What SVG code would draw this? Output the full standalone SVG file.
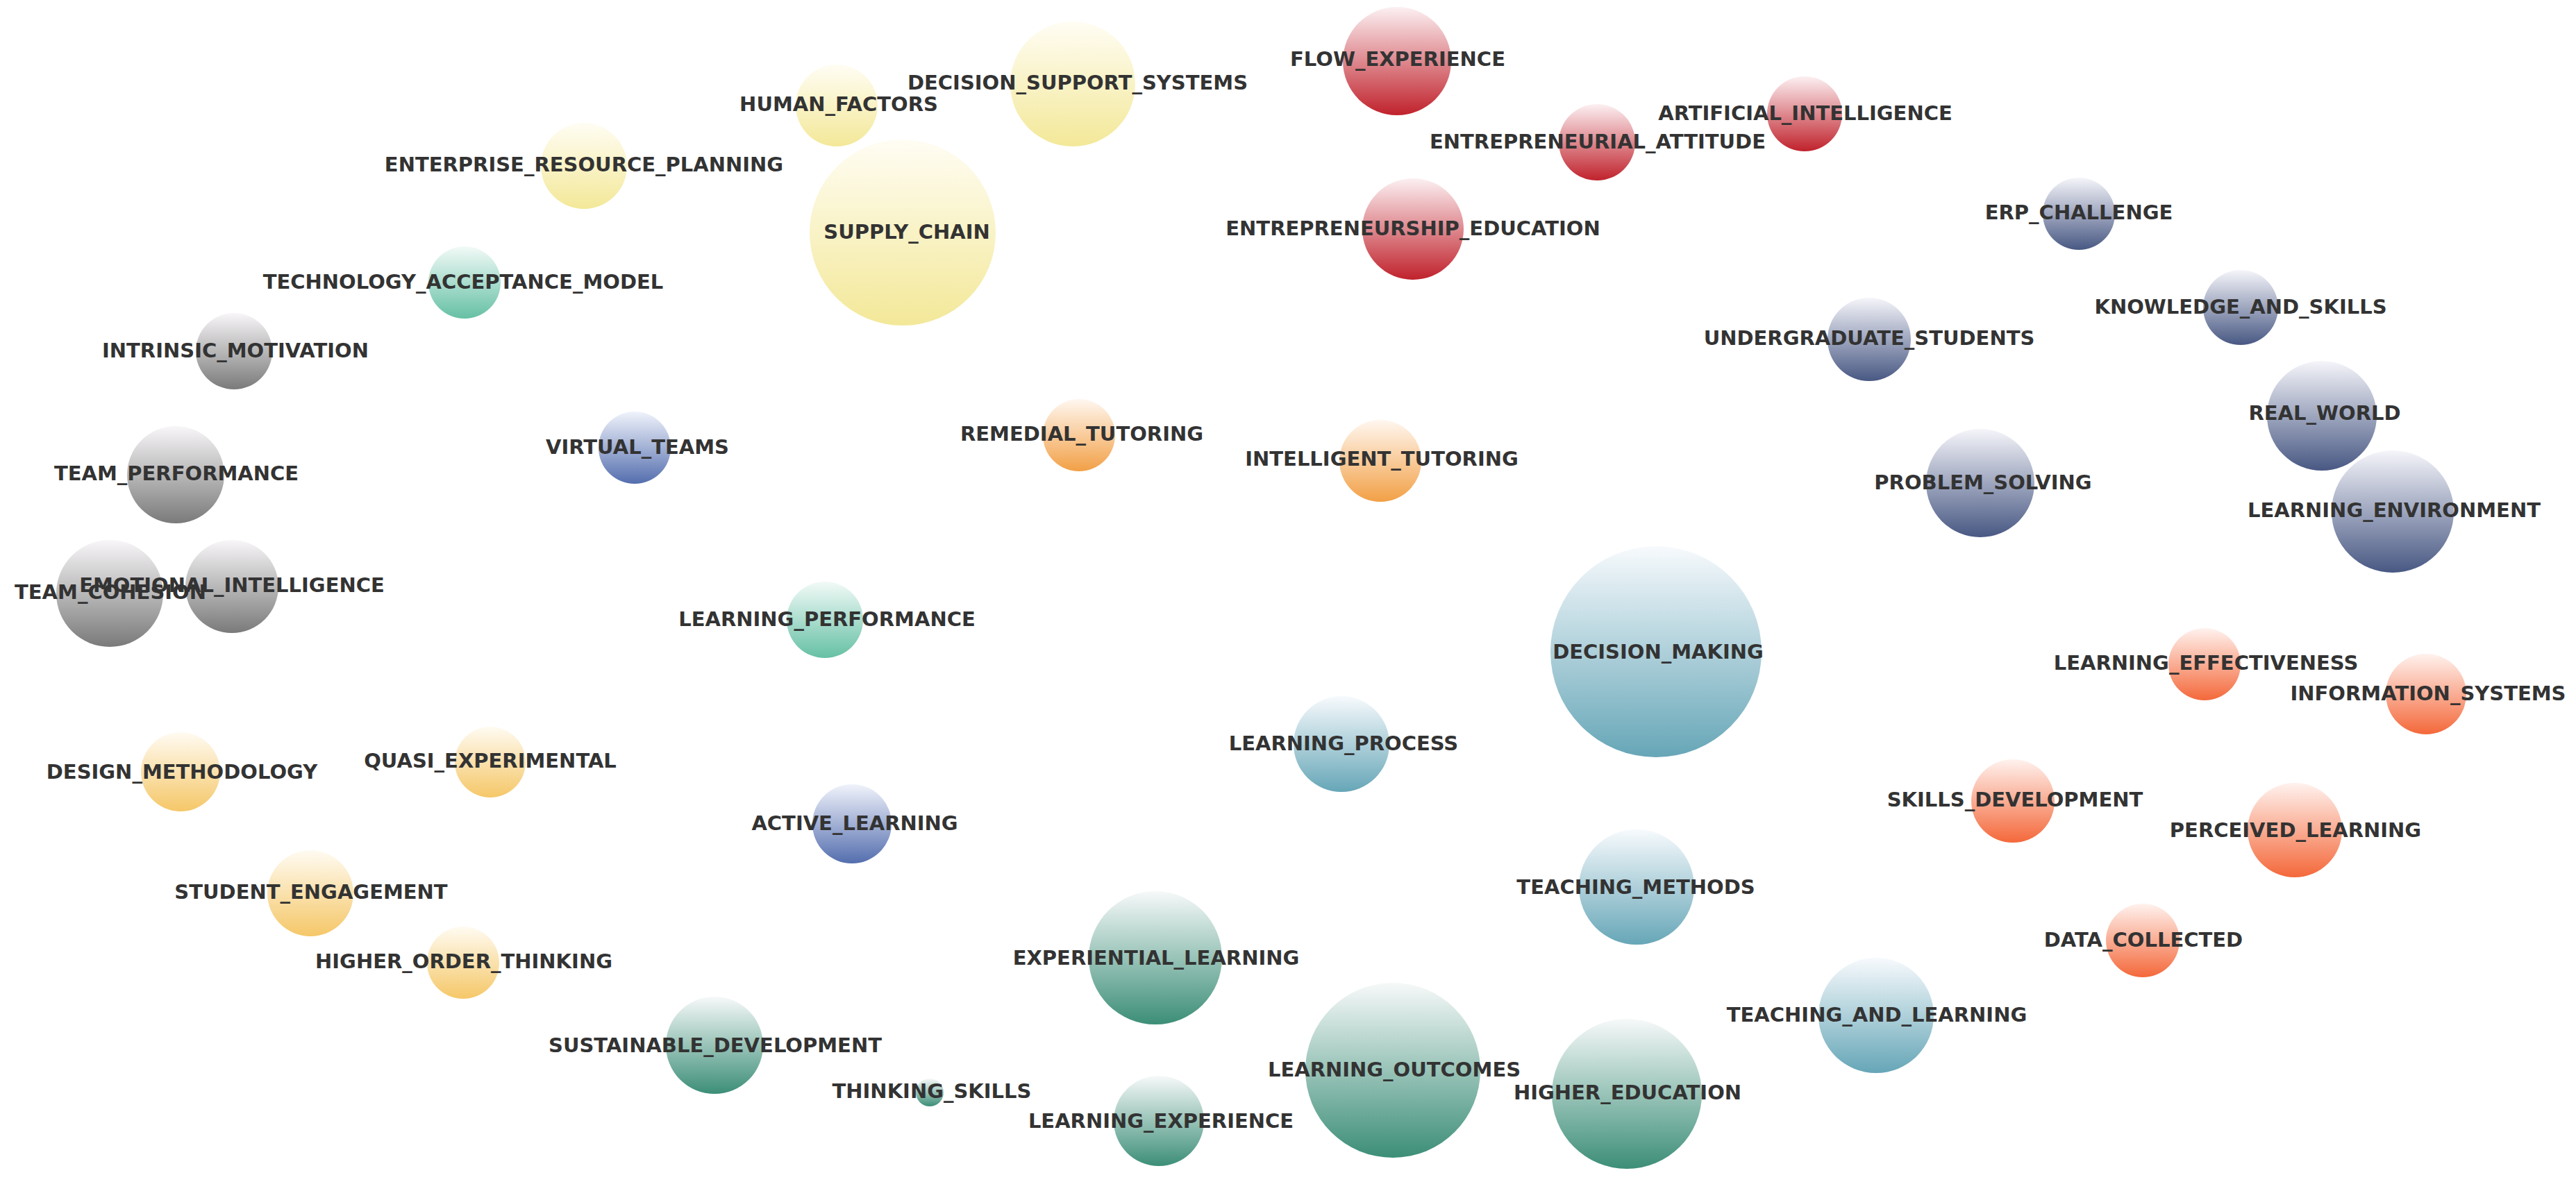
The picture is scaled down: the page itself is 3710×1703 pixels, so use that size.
<svg xmlns="http://www.w3.org/2000/svg" width="3710" height="1703" viewBox="0 0 3710 1703">
<style>
.lbl{font-family:"DejaVu Sans","Liberation Sans",sans-serif;font-weight:bold;font-size:29px;fill:#333333;text-anchor:middle}
</style>
<defs>
<linearGradient id="gYellow" x1="0" y1="0" x2="0" y2="1"><stop offset="0" stop-color="#fffdf4"/><stop offset="1" stop-color="#f3e898"/></linearGradient>
<linearGradient id="gRed" x1="0" y1="0" x2="0" y2="1"><stop offset="0" stop-color="#fcf0f2"/><stop offset="1" stop-color="#c0222c"/></linearGradient>
<linearGradient id="gNavy" x1="0" y1="0" x2="0" y2="1"><stop offset="0" stop-color="#f5f5fa"/><stop offset="1" stop-color="#485883"/></linearGradient>
<linearGradient id="gMint" x1="0" y1="0" x2="0" y2="1"><stop offset="0" stop-color="#f2faf8"/><stop offset="1" stop-color="#65c0a4"/></linearGradient>
<linearGradient id="gGray" x1="0" y1="0" x2="0" y2="1"><stop offset="0" stop-color="#f8f6f8"/><stop offset="1" stop-color="#7a7a7a"/></linearGradient>
<linearGradient id="gBlue" x1="0" y1="0" x2="0" y2="1"><stop offset="0" stop-color="#f0f3fb"/><stop offset="1" stop-color="#546eae"/></linearGradient>
<linearGradient id="gOrange" x1="0" y1="0" x2="0" y2="1"><stop offset="0" stop-color="#fff7f0"/><stop offset="1" stop-color="#f2a046"/></linearGradient>
<linearGradient id="gSand" x1="0" y1="0" x2="0" y2="1"><stop offset="0" stop-color="#fffbf2"/><stop offset="1" stop-color="#f5c768"/></linearGradient>
<linearGradient id="gSky" x1="0" y1="0" x2="0" y2="1"><stop offset="0" stop-color="#f7fafd"/><stop offset="1" stop-color="#66a6b7"/></linearGradient>
<linearGradient id="gCoral" x1="0" y1="0" x2="0" y2="1"><stop offset="0" stop-color="#fff2ee"/><stop offset="1" stop-color="#f4683a"/></linearGradient>
<linearGradient id="gGreen" x1="0" y1="0" x2="0" y2="1"><stop offset="0" stop-color="#f6f9f9"/><stop offset="1" stop-color="#3c8e77"/></linearGradient>
</defs>
<rect width="3710" height="1703" fill="#ffffff"/>
<g id="connectors"></g>
<g id="nodes">
<g id="supply_chain"><circle cx="1300" cy="335" r="134" fill="url(#gYellow)"/></g>
<g id="human_factors"><circle cx="1205" cy="152" r="59" fill="url(#gYellow)"/></g>
<g id="decision_support_systems"><circle cx="1545" cy="121" r="90" fill="url(#gYellow)"/></g>
<g id="enterprise_resource_planning"><circle cx="841" cy="239" r="62" fill="url(#gYellow)"/></g>
<g id="flow_experience"><circle cx="2012" cy="88" r="78" fill="url(#gRed)"/></g>
<g id="entrepreneurial_attitude"><circle cx="2300" cy="205" r="55" fill="url(#gRed)"/></g>
<g id="artificial_intelligence"><circle cx="2599" cy="164" r="54" fill="url(#gRed)"/></g>
<g id="entrepreneurship_education"><circle cx="2035" cy="330" r="73" fill="url(#gRed)"/></g>
<g id="erp_challenge"><circle cx="2994" cy="308" r="52" fill="url(#gNavy)"/></g>
<g id="knowledge_and_skills"><circle cx="3227" cy="443" r="54" fill="url(#gNavy)"/></g>
<g id="undergraduate_students"><circle cx="2692" cy="489" r="60" fill="url(#gNavy)"/></g>
<g id="real_world"><circle cx="3344" cy="599" r="79" fill="url(#gNavy)"/></g>
<g id="problem_solving"><circle cx="2852" cy="696" r="78" fill="url(#gNavy)"/></g>
<g id="learning_environment"><circle cx="3446" cy="737" r="88" fill="url(#gNavy)"/></g>
<g id="learning_effectiveness"><circle cx="3175" cy="957" r="52" fill="url(#gCoral)"/></g>
<g id="information_systems"><circle cx="3494" cy="1000" r="58" fill="url(#gCoral)"/></g>
<g id="skills_development"><circle cx="2899" cy="1154" r="60" fill="url(#gCoral)"/></g>
<g id="perceived_learning"><circle cx="3305" cy="1196" r="68" fill="url(#gCoral)"/></g>
<g id="data_collected"><circle cx="3086" cy="1355" r="53" fill="url(#gCoral)"/></g>
<g id="teaching_and_learning"><circle cx="2702" cy="1463" r="83" fill="url(#gSky)"/></g>
<g id="teaching_methods"><circle cx="2357" cy="1278" r="83" fill="url(#gSky)"/></g>
<g id="decision_making"><circle cx="2385" cy="939" r="152" fill="url(#gSky)"/></g>
<g id="learning_process"><circle cx="1932" cy="1072" r="69" fill="url(#gSky)"/></g>
<g id="higher_education"><circle cx="2343" cy="1576" r="108" fill="url(#gGreen)"/></g>
<g id="learning_outcomes"><circle cx="2006" cy="1542" r="126" fill="url(#gGreen)"/></g>
<g id="learning_experience"><circle cx="1669" cy="1615" r="65" fill="url(#gGreen)"/></g>
<g id="experiential_learning"><circle cx="1664" cy="1380" r="96" fill="url(#gGreen)"/></g>
<g id="thinking_skills"><circle cx="1339" cy="1574" r="20" fill="url(#gGreen)"/></g>
<g id="sustainable_development"><circle cx="1029" cy="1506" r="70" fill="url(#gGreen)"/></g>
<g id="higher_order_thinking"><circle cx="667" cy="1387" r="52" fill="url(#gSand)"/></g>
<g id="student_engagement"><circle cx="447" cy="1287" r="62" fill="url(#gSand)"/></g>
<g id="design_methodology"><circle cx="260" cy="1112" r="57" fill="url(#gSand)"/></g>
<g id="quasi_experimental"><circle cx="706" cy="1098" r="51" fill="url(#gSand)"/></g>
<g id="active_learning"><circle cx="1227" cy="1187" r="57" fill="url(#gBlue)"/></g>
<g id="virtual_teams"><circle cx="914" cy="645" r="52" fill="url(#gBlue)"/></g>
<g id="intelligent_tutoring"><circle cx="1988" cy="664" r="59" fill="url(#gOrange)"/></g>
<g id="remedial_tutoring"><circle cx="1554" cy="627" r="52" fill="url(#gOrange)"/></g>
<g id="learning_performance"><circle cx="1188" cy="893" r="55" fill="url(#gMint)"/></g>
<g id="technology_acceptance_model"><circle cx="669" cy="407" r="52" fill="url(#gMint)"/></g>
<g id="team_performance"><circle cx="253" cy="684" r="70" fill="url(#gGray)"/></g>
<g id="team_cohesion"><circle cx="158" cy="855" r="77" fill="url(#gGray)"/></g>
<g id="emotional_intelligence"><circle cx="334" cy="845" r="67" fill="url(#gGray)"/></g>
<g id="intrinsic_motivation"><circle cx="337" cy="506" r="55" fill="url(#gGray)"/></g>
</g>
<g id="labels">
<text class="lbl" x="1306" y="344">SUPPLY_CHAIN</text>
<text class="lbl" x="1208" y="160">HUMAN_FACTORS</text>
<text class="lbl" x="1552" y="129">DECISION_SUPPORT_SYSTEMS</text>
<text class="lbl" x="841" y="247">ENTERPRISE_RESOURCE_PLANNING</text>
<text class="lbl" x="2013" y="95">FLOW_EXPERIENCE</text>
<text class="lbl" x="2301" y="214">ENTREPRENEURIAL_ATTITUDE</text>
<text class="lbl" x="2600" y="173">ARTIFICIAL_INTELLIGENCE</text>
<text class="lbl" x="2035" y="339">ENTREPRENEURSHIP_EDUCATION</text>
<text class="lbl" x="2994" y="316">ERP_CHALLENGE</text>
<text class="lbl" x="3227" y="452">KNOWLEDGE_AND_SKILLS</text>
<text class="lbl" x="2692" y="497">UNDERGRADUATE_STUDENTS</text>
<text class="lbl" x="3348" y="605">REAL_WORLD</text>
<text class="lbl" x="2856" y="705">PROBLEM_SOLVING</text>
<text class="lbl" x="3448" y="745">LEARNING_ENVIRONMENT</text>
<text class="lbl" x="3177" y="965">LEARNING_EFFECTIVENESS</text>
<text class="lbl" x="3497" y="1009">INFORMATION_SYSTEMS</text>
<text class="lbl" x="2902" y="1162">SKILLS_DEVELOPMENT</text>
<text class="lbl" x="3306" y="1206">PERCEIVED_LEARNING</text>
<text class="lbl" x="3087" y="1364">DATA_COLLECTED</text>
<text class="lbl" x="2703" y="1472">TEACHING_AND_LEARNING</text>
<text class="lbl" x="2356" y="1288">TEACHING_METHODS</text>
<text class="lbl" x="2388" y="949">DECISION_MAKING</text>
<text class="lbl" x="1935" y="1081">LEARNING_PROCESS</text>
<text class="lbl" x="2344" y="1584">HIGHER_EDUCATION</text>
<text class="lbl" x="2008" y="1551">LEARNING_OUTCOMES</text>
<text class="lbl" x="1672" y="1625">LEARNING_EXPERIENCE</text>
<text class="lbl" x="1665" y="1390">EXPERIENTIAL_LEARNING</text>
<text class="lbl" x="1342" y="1582">THINKING_SKILLS</text>
<text class="lbl" x="1030" y="1516">SUSTAINABLE_DEVELOPMENT</text>
<text class="lbl" x="668" y="1395">HIGHER_ORDER_THINKING</text>
<text class="lbl" x="448" y="1295">STUDENT_ENGAGEMENT</text>
<text class="lbl" x="262" y="1122">DESIGN_METHODOLOGY</text>
<text class="lbl" x="706" y="1106">QUASI_EXPERIMENTAL</text>
<text class="lbl" x="1231" y="1196">ACTIVE_LEARNING</text>
<text class="lbl" x="918" y="654">VIRTUAL_TEAMS</text>
<text class="lbl" x="1990" y="671">INTELLIGENT_TUTORING</text>
<text class="lbl" x="1558" y="635">REMEDIAL_TUTORING</text>
<text class="lbl" x="1191" y="902">LEARNING_PERFORMANCE</text>
<text class="lbl" x="667" y="416">TECHNOLOGY_ACCEPTANCE_MODEL</text>
<text class="lbl" x="254" y="692">TEAM_PERFORMANCE</text>
<text class="lbl" x="159" y="863">TEAM_COHESION</text>
<text class="lbl" x="334" y="853">EMOTIONAL_INTELLIGENCE</text>
<text class="lbl" x="339" y="515">INTRINSIC_MOTIVATION</text>
</g>
</svg>
